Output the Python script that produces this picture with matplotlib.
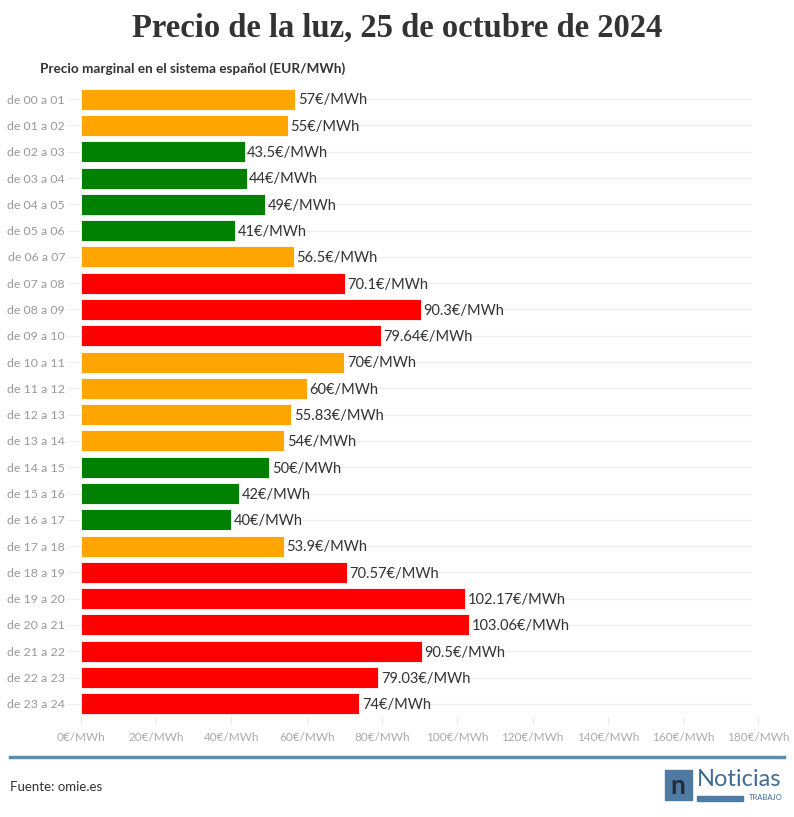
import matplotlib.pyplot as plt
from matplotlib.patches import Rectangle

# datos
horas = ["de %02d a %02d" % (h, h + 1) for h in range(24)]
precios = [57, 55, 43.5, 44, 49, 41, 56.5, 70.1, 90.3, 79.64, 70, 60, 55.83, 54,
           50, 42, 40, 53.9, 70.57, 102.17, 103.06, 90.5, 79.03, 74]
etiquetas = ["57", "55", "43.5", "44", "49", "41", "56.5", "70.1", "90.3", "79.64",
             "70", "60", "55.83", "54", "50", "42", "40", "53.9", "70.57", "102.17",
             "103.06", "90.5", "79.03", "74"]
niveles = ["m", "m", "b", "b", "b", "b", "m", "a", "a", "a", "m", "m", "m", "m",
           "b", "b", "b", "m", "a", "a", "a", "a", "a", "a"]
ticks_x = [0, 20, 40, 60, 80, 100, 120, 140, 160, 180]

colores = {"b": "#008000", "m": "#FFA500", "a": "#FF0000"}
plt.rcParams["font.family"] = ["Lato", "DejaVu Sans"]

fig = plt.figure(figsize=(7.94, 8.17), dpi=100)
ax = fig.add_axes([0.102, 0.1224, 0.853, 0.7723])

y = list(range(len(horas)))
for yy in y:
    ax.axhline(yy, color="#eeeeee", lw=1, zorder=0, xmax=0.99)
ax.barh(y, precios, height=0.8, color=[colores[n] for n in niveles],
        edgecolor="white", linewidth=0.6, zorder=2)
for yy, p, e in zip(y, precios, etiquetas):
    ax.text(p + 0.7, yy + 0.05, e + "€/MWh", va="center", ha="left",
            fontsize=10.5, color="#333333", zorder=3)

ax.set_xlim(0, 180)
ax.set_ylim(23.5, -0.5)
ax.set_yticks(y)
ax.set_yticklabels(horas, fontsize=8.9, color="#999999")
ax.set_xticks(ticks_x)
ax.set_xticklabels([f"{t}€/MWh" for t in ticks_x], fontsize=8.5, color="#aaaaaa")
ax.tick_params(axis="y", length=10, color="#eeeeee", pad=1.5)
ax.tick_params(axis="x", length=5, color="#e6e6e6", pad=6)
for s in ax.spines.values():
    s.set_visible(False)

fig.text(0.5, 0.965, "Precio de la luz, 25 de octubre de 2024", ha="center", va="center",
         fontsize=23.5, fontweight="bold", color="#333333",
         family=["Liberation Serif", "DejaVu Serif"])
fig.text(0.05, 0.916, "Precio marginal en el sistema español (EUR/MWh)",
         fontsize=9.8, fontweight="bold", color="#333333", va="center")

# pie
fig.add_artist(plt.Line2D([0.013, 0.987], [1 - 757 / 817] * 2, color="#5b8db0", lw=2.5))
fig.text(0.013, 1 - 787 / 817, "Fuente: omie.es", fontsize=9.5, color="#333333", va="center")

# logo
fig.add_artist(Rectangle((665 / 794, 1 - 800 / 817), 27 / 794, 30 / 817,
                         color="#4f7ba3", transform=fig.transFigure))
fig.text(678 / 794, 1 - 786 / 817, "n", fontsize=19, fontweight="bold", color="#1f2d3d",
         ha="center", va="center")
fig.text(697 / 794, 1 - 779 / 817, "Noticias", fontsize=17, color="#3f6d96",
         ha="left", va="center")
fig.add_artist(Rectangle((697 / 794, 1 - 801 / 817), 46 / 794, 5 / 817,
                         color="#4f7ba3", transform=fig.transFigure))
fig.text(783 / 794, 1 - 798 / 817, "TRABAJO", fontsize=5.5, color="#3f6d96",
         ha="right", va="center")

fig.savefig("out.png", dpi=100)
